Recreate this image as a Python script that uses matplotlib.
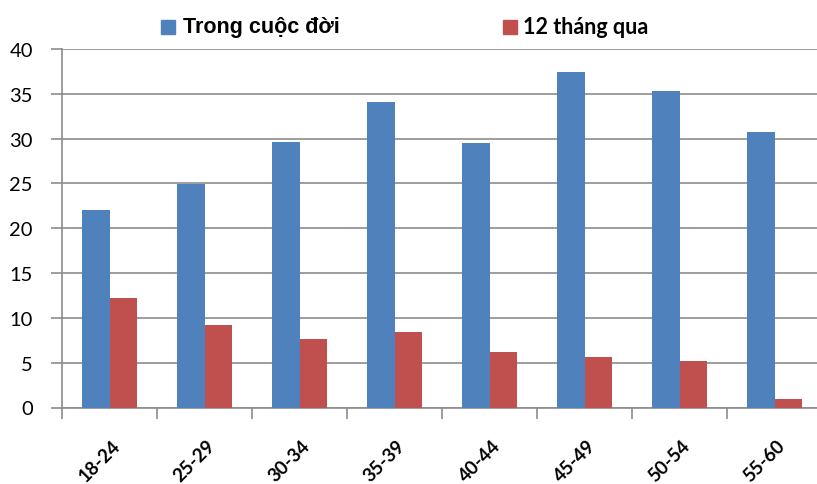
import matplotlib.pyplot as plt
import matplotlib.transforms as mtransforms
import numpy as np

categories = ["18-24", "25-29", "30-34", "35-39", "40-44", "45-49", "50-54", "55-60"]
lifetime = [22.0, 24.9, 29.6, 34.1, 29.5, 37.4, 35.3, 30.7]
last_12_months = [12.25, 9.2, 7.6, 8.4, 6.2, 5.6, 5.15, 0.95]
series_names = ["Trong cuộc đời", "12 tháng qua"]
yticks = [0, 5, 10, 15, 20, 25, 30, 35, 40]

blue = "#4F81BD"
red = "#C0504D"
grid_col = "#8C8C8C"

fig = plt.figure(figsize=(8.17, 4.85), dpi=100)
ax = fig.add_axes([62 / 817, (485 - 408.5) / 485, 760 / 817, 358.5 / 485])

x = np.arange(len(categories))
w = 0.29
ax.bar(x - w / 2, lifetime, w, color=blue, zorder=3, label=series_names[0])
ax.bar(x + w / 2, last_12_months, w, color=red, zorder=3, label=series_names[1])

ax.set_xlim(-0.5, len(categories) - 0.5)
ax.set_ylim(0, 40)
ax.set_yticks(yticks)
ax.set_yticklabels([str(v) for v in yticks], fontfamily="Lato", fontsize=14.5)
ax.yaxis.grid(True, color=grid_col, linewidth=1.2, zorder=0)
ax.tick_params(axis="y", length=8, width=1.2, color=grid_col, pad=13)

# boundary ticks between categories
ax.set_xticks(np.arange(-0.5, len(categories), 1.0))
ax.set_xticklabels([])
ax.tick_params(axis="x", which="major", length=8, width=1.2, color=grid_col)

# rotated category labels under each group
base = mtransforms.blended_transform_factory(ax.transData, ax.transAxes)
label_tf = mtransforms.offset_copy(base, fig=fig, x=2, y=-29, units="dots")
for xi, cat in zip(x, categories):
    ax.text(xi, 0, cat, transform=label_tf, rotation=45, ha="right", va="top",
            rotation_mode="anchor", fontfamily="Lato", fontweight="bold",
            fontsize=13.5, clip_on=False)

for side in ["top", "right"]:
    ax.spines[side].set_visible(False)
for side in ["left", "bottom"]:
    ax.spines[side].set_color(grid_col)
    ax.spines[side].set_linewidth(1.2)

# legend entries placed above the plot area
fig.patches.append(plt.Rectangle((161 / 817, 1 - 35 / 485), 14 / 817, 14 / 485,
                                 transform=fig.transFigure, color=blue))
fig.text(183 / 817, 1 - 28 / 485, series_names[0], fontfamily="Liberation Sans",
         fontweight="bold", fontsize=15.5, va="center", ha="left")
fig.patches.append(plt.Rectangle((503 / 817, 1 - 35 / 485), 14 / 817, 14 / 485,
                                 transform=fig.transFigure, color=red))
fig.text(523 / 817, 1 - 28 / 485, series_names[1], fontfamily="Lato",
         fontweight="bold", fontsize=15.5, va="center", ha="left")

fig.savefig("out.png", dpi=100)
